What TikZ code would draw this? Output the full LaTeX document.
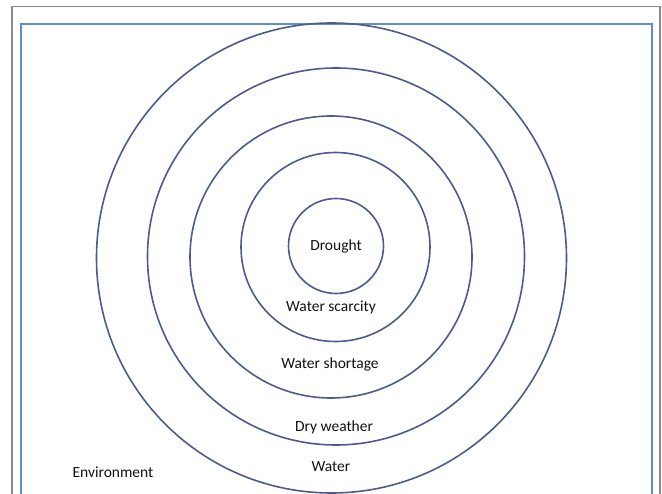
\documentclass[tikz,border=0pt]{standalone}
\usepackage{fontspec}
\setmainfont{Carlito}
\usetikzlibrary{positioning}
\definecolor{ringblue}{HTML}{4B5C8C}
\definecolor{framesky}{HTML}{5E8FCC}
\definecolor{framegray}{HTML}{8A8A8A}
\definecolor{textdark}{HTML}{111111}

\begin{document}
\begin{tikzpicture}[x=1pt, y=-1pt,
  ring/.style={circle, draw=ringblue, line width=1.6pt, inner sep=0pt},
  zone/.style={text=textdark, font=\fontsize{15.5}{18}\selectfont, inner sep=0pt},
]
\useasboundingbox (0,0) rectangle (662,494);
\clip (0,0) rectangle (662,494);

% Frames
\draw[framegray, line width=1.5pt] (12,6.5) rectangle (660,530);
\draw[framesky, line width=1.4pt] (21,24) rectangle (652,530);

% Rings, outer to inner
\node[ring, minimum size=470pt] (water) at (331.5,258) {};
\node[ring, minimum size=377pt] (dry) at (336,256.5) {};
\node[ring, minimum size=282pt] (shortage) at (331,257) {};
\node[ring, minimum size=189pt] (scarcity) at (335.5,247) {};
\node[ring, minimum size=95pt] (drought) at (336,246) {};

% Labels
\node[zone] (lbldrought) at (drought.center) {Drought};
\node[zone] (lblscarcity) at (331,307) {Water scarcity};
\node[zone] (lblshortage) at (330,364) {Water shortage};
\node[zone] (lbldry) at (334,427) {Dry weather};
\node[zone] (lblwater) at (331,467) {Water};
\node[zone] (lblenv) at (113,472) {Environment};

\end{tikzpicture}
\end{document}
